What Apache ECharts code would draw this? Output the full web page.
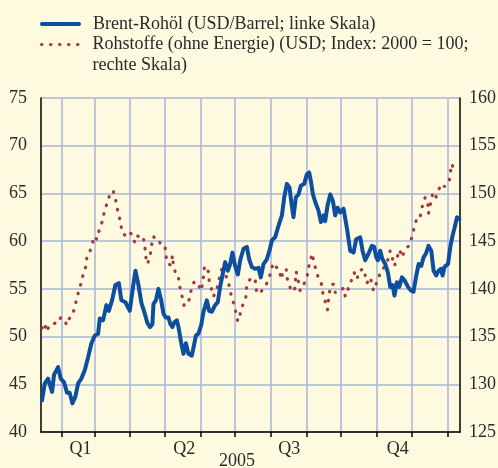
<!DOCTYPE html>
<html>
<head>
<meta charset="utf-8">
<script src="https://cdn.jsdelivr.net/npm/echarts@6/dist/echarts.min.js"></script>
<style>
  html, body { margin: 0; padding: 0; background: #fefadf; }
  #chart { width: 498px; height: 468px; }
</style>
</head>
<body>
<div id="chart"></div>
<script>
// x = Tag seit 1.1.2005
const brentDay = [13.6,16.0,18.8,22.3,24.0,27.5,29.8,32.7,35.3,37.6,39.9,42.5,44.9,47.7,50.7,53.5,56.4,59.3,62.2,63.7,
  66.5,69.4,71.5,74.3,77.2,80.2,82.4,85.9,89.7,92.0,94.6,96.9,99.8,102.7,105.0,107.3,109.3,110.2,112.3,114.5,
  116.9,118.9,120.9,123.2,124.9,126.7,128.4,130.5,131.9,134.2,136.2,138.3,140.5,143.5,145.7,147.0,149.2,151.6,153.6,156.5,
  158.5,160.8,163.7,166.0,168.0,170.0,172.4,174.7,176.7,178.7,181.0,183.4,185.4,188.3,191.2,193.2,195.5,198.4,201.3,203.3,
  205.6,208.5,210.8,212.9,215.7,218.6,221.6,223.6,225.9,228.2,229.6,231.6,233.7,236.0,238.0,240.9,243.2,245.2,246.7,248.5,
  250.5,253.3,255.4,257.7,259.1,261.1,263.5,265.8,267.8,269.8,272.1,275.0,277.9,280.8,283.7,286.0,287.5,289.5,291.5,293.8,
  296.7,299.6,301.6,303.4,304.8,306.8,308.8,311.2,313.5,315.5,317.5,319.2,321.3,323.3,325.7,327.9,330.9,333.7,335.7,337.8,
  340.1,342.4,344.4,346.5,348.7,351.1,353.1,355.4,357.4,359.5,360.9,362.6,365.6,367.6,369.6,371.3,373.4,375.4];
const brentUsd = [43.3,45.1,45.6,44.2,46.0,46.8,45.6,45.2,44.1,44.1,43.0,43.7,45.1,45.6,46.5,47.8,49.3,50.1,50.3,51.9,
  51.7,53.3,52.7,53.8,55.4,55.6,53.8,53.6,52.7,54.8,56.9,55.6,53.5,52.4,51.4,51.0,51.3,53.4,53.8,55.0,
  53.8,52.4,52.0,52.0,51.3,51.0,51.5,51.7,51.0,49.4,48.2,49.3,48.2,48.0,49.3,50.1,50.3,51.2,52.6,53.8,
  52.7,52.6,53.3,53.6,55.2,56.4,57.8,56.9,57.6,58.8,57.4,56.5,58.0,59.2,59.4,58.1,57.3,57.1,57.2,56.2,
  57.6,58.1,59.0,60.1,60.4,61.6,62.7,64.6,66.0,65.6,64.2,62.5,64.6,64.9,65.8,66.0,67.0,67.2,66.3,64.9,
  64.1,63.2,62.0,62.7,62.1,63.7,64.9,64.2,62.7,63.5,63.0,63.4,61.4,59.0,58.8,60.2,60.1,60.4,59.0,58.0,
  58.7,59.5,59.4,58.3,58.0,59.0,58.1,57.6,56.7,55.2,55.4,54.3,55.7,55.2,56.2,55.9,55.2,54.8,54.7,56.2,
  57.6,57.4,58.3,58.7,59.5,59.0,56.9,56.4,56.9,57.1,56.4,57.3,57.6,59.4,60.6,61.4,62.5,62.3];

const rohDay = [13.6,16.0,17.4,19.4,21.7,24.6,27.5,29.8,32.7,35.0,37.3,39.9,42.0,43.7,45.5,47.7,49.2,51.5,52.4,55.3,
  57.3,58.5,61.1,62.8,65.1,66.5,68.9,70.0,72.4,75.2,77.2,78.4,80.2,81.9,82.8,86.8,89.4,91.7,94.0,95.8,
  98.4,101.2,102.1,103.2,103.8,105.0,107.3,108.8,110.2,112.3,114.5,116.0,118.0,120.3,120.9,122.7,125.5,126.7,127.3,129.0,
  131.3,132.5,133.6,135.3,136.8,139.7,142.0,142.9,145.7,149.2,151.6,153.0,153.9,154.4,157.9,158.5,160.2,162.2,165.2,166.6,
  168.9,170.0,172.4,173.2,175.2,176.7,178.2,180.4,181.9,183.4,184.8,186.3,190.3,190.6,192.6,195.5,198.4,199.0,199.9,203.3,
  207.1,209.9,212.3,213.8,216.6,219.5,220.7,222.9,225.3,225.8,227.3,229.6,232.5,234.0,236.0,237.4,240.3,243.2,244.6,245.5,
  248.1,249.0,251.1,253.3,256.3,257.1,259.1,261.1,262.6,264.1,266.3,267.8,271.5,275.0,276.5,277.9,279.9,282.3,284.3,286.6,
  288.6,292.4,293.8,295.3,298.2,299.6,301.0,303.1,305.4,306.8,311.2,314.0,315.5,317.0,319.2,321.3,323.6,325.7,327.9,332.9,
  334.3,336.3,338.1,340.7,342.4,343.9,345.9,348.2,348.7,350.8,352.2,354.6,356.9,360.4,362.6,364.7,366.7,367.6,369.1,371.0];
const rohIndex = [135.9,136.4,135.5,136.0,136.0,136.4,136.4,137.0,136.8,136.2,136.9,137.2,138.1,139.0,139.8,140.7,141.5,142.3,143.2,144.0,
  144.7,145.5,145.2,146.0,146.7,147.6,148.4,149.2,149.8,150.3,149.5,148.6,147.7,146.9,145.9,145.5,145.9,145.7,144.9,145.6,
  145.4,145.5,144.9,144.0,143.1,142.6,143.4,144.7,145.5,145.1,145.1,145.2,144.4,144.4,143.5,142.6,142.5,143.5,142.6,141.8,
  141.6,140.7,139.8,139.1,138.2,138.5,139.1,139.9,140.8,140.4,139.8,140.7,141.6,142.4,141.8,140.9,140.1,139.2,139.9,140.8,
  141.7,142.5,142.3,141.3,140.7,139.8,139.0,138.3,137.4,136.6,137.0,137.9,139.1,140.0,140.8,141.2,141.0,140.2,139.5,139.7,
  140.2,141.0,141.8,142.7,142.3,142.0,141.0,141.9,142.1,141.2,140.7,139.8,139.8,141.8,140.7,139.8,140.4,141.2,142.0,142.8,
  143.7,142.9,142.0,141.1,140.4,139.5,138.7,137.8,139.5,140.4,140.5,139.6,139.7,140.1,139.2,139.5,140.4,141.0,141.7,141.0,
  141.9,142.1,141.4,140.6,141.2,140.5,139.8,140.5,141.0,141.8,142.4,143.2,144.0,143.4,142.4,143.2,144.1,143.3,144.0,144.7,
  145.5,146.4,147.2,147.2,148.1,149.0,149.6,148.8,147.9,149.2,149.9,149.4,150.3,151.0,150.7,151.0,151.3,152.2,153.1,152.2];

const monthStarts = [31, 59, 90, 120, 151, 181, 212, 243, 273, 304, 334, 365];
const quarterPos = [47, 137, 228, 322];
const quarterLabels = ['Q1', 'Q2', 'Q3', 'Q4'];
const yearLabel = '2005';

const brentName = 'Brent-Rohöl (USD/Barrel; linke Skala)';
const rohName = 'Rohstoffe (ohne Energie) (USD; Index: 2000 = 100; rechte Skala)';

const font = 'Liberation Serif, Times New Roman, serif';
const txt = '#2a2a2a';
const gridColor = '#a9b3df';

const chart = echarts.init(document.getElementById('chart'));
chart.setOption({
  backgroundColor: '#fefadf',
  animation: false,
  textStyle: { fontFamily: font },
  legend: [{
    data: [brentName],
    left: 40, top: 15, padding: 0,
    itemWidth: 37, itemHeight: 14,
    selectedMode: false,
    itemStyle: { opacity: 0 },
    lineStyle: { width: 4 },
    textStyle: { fontFamily: font, fontSize: 18, color: txt, padding: [0, 0, 0, 9] }
  }, {
    data: [rohName],
    left: 40, top: 13, padding: 0,
    itemWidth: 37, itemHeight: 14,
    selectedMode: false,
    itemStyle: { opacity: 0 },
    lineStyle: { width: 3 },
    // leere erste Zeile, damit die erste Textzeile auf Höhe des Symbols steht
    formatter: n => '\n' + n.replace('100; ', '100;\n'),
    textStyle: { fontFamily: font, fontSize: 18, color: txt, lineHeight: 21, padding: [0, 0, 0, 9] }
  }],
  grid: { left: 41, right: 38, top: 98, bottom: 36, outerBoundsMode: 'none', containLabel: false },
  xAxis: {
    type: 'value',
    min: 12.7, max: 376,
    axisLine: { lineStyle: { color: '#000', width: 1.5 } },
    axisTick: { customValues: monthStarts, length: 5, lineStyle: { color: '#000', width: 1.5 } },
    splitLine: { show: true, lineStyle: { color: gridColor, width: 1.5 } },
    axisLabel: {
      customValues: quarterPos, margin: 8,
      fontFamily: font, fontSize: 18, color: txt,
      formatter: v => quarterLabels[quarterPos.indexOf(v)]
    },
    name: yearLabel, nameLocation: 'middle', nameGap: 20, nameMoveOverlap: false,
    nameTextStyle: { fontFamily: font, fontSize: 18, color: txt, padding: [0, 27, 0, 0] }
  },
  yAxis: [{
    type: 'value', min: 40, max: 75, interval: 5,
    axisLine: { show: true, lineStyle: { color: '#000', width: 1.5 } },
    axisTick: { show: false },
    splitLine: { show: true, lineStyle: { color: gridColor, width: 1.5 } },
    axisLabel: { margin: 14, fontFamily: font, fontSize: 18, color: txt }
  }, {
    type: 'value', min: 125, max: 160, interval: 5, position: 'right',
    axisLine: { show: true, lineStyle: { color: '#000', width: 1.5 } },
    axisTick: { show: false },
    splitLine: { show: false },
    axisLabel: { margin: 9, fontFamily: font, fontSize: 18, color: txt }
  }],
  series: [{
    name: rohName,
    type: 'line',
    yAxisIndex: 1,
    symbol: 'none',
    data: rohDay.map((d, i) => [d, rohIndex[i]]),
    itemStyle: { color: '#a5383a' },
    lineStyle: { color: '#a5383a', width: 3.2, type: [0.5, 8.5], cap: 'round' },
    z: 2
  }, {
    name: brentName,
    type: 'line',
    symbol: 'none',
    data: brentDay.map((d, i) => [d, brentUsd[i]]),
    itemStyle: { color: '#0b4f9e' },
    lineStyle: { color: '#0b4f9e', width: 4, join: 'round', cap: 'round' },
    z: 3
  }]
});
</script>
</body>
</html>
